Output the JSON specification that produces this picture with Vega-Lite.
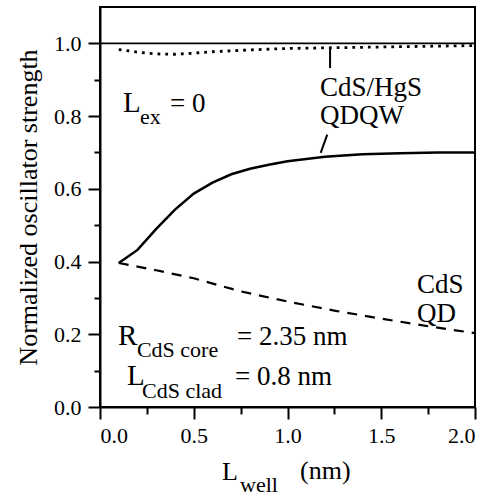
{
  "$schema": "https://vega.github.io/schema/vega-lite/v6.json",
  "width": 375,
  "height": 400,
  "autosize": {"type": "none"},
  "padding": {"left": 100, "top": 7, "right": 17, "bottom": 91},
  "background": "white",
  "config": {
    "view": {"stroke": "black", "strokeWidth": 2},
    "axis": {
      "grid": false,
      "domainColor": "black",
      "domainWidth": 2,
      "tickColor": "black",
      "tickWidth": 2,
      "labelFont": "Liberation Serif",
      "labelFontSize": 22,
      "labelColor": "black",
      "titleFont": "Liberation Serif",
      "titleFontSize": 26,
      "titleFontWeight": "normal",
      "titleColor": "black"
    },
    "text": {"font": "Liberation Serif", "color": "black", "align": "left", "baseline": "alphabetic"}
  },
  "datasets": {
    "qdqw": [
      {"x": 0.1, "y": 0.396}, {"x": 0.2, "y": 0.432}, {"x": 0.3, "y": 0.49}, {"x": 0.4, "y": 0.543},
      {"x": 0.5, "y": 0.587}, {"x": 0.6, "y": 0.617}, {"x": 0.7, "y": 0.64}, {"x": 0.8, "y": 0.655},
      {"x": 0.9, "y": 0.666}, {"x": 1.0, "y": 0.676}, {"x": 1.2, "y": 0.688}, {"x": 1.4, "y": 0.695},
      {"x": 1.6, "y": 0.698}, {"x": 1.8, "y": 0.7}, {"x": 2.0, "y": 0.7}
    ],
    "qd": [
      {"x": 0.1, "y": 0.396}, {"x": 0.3, "y": 0.376}, {"x": 0.5, "y": 0.354}, {"x": 0.75, "y": 0.318},
      {"x": 1.0, "y": 0.29}, {"x": 1.25, "y": 0.265}, {"x": 1.5, "y": 0.243}, {"x": 1.75, "y": 0.222},
      {"x": 2.0, "y": 0.203}
    ],
    "dot": [
      {"x": 0.1, "y": 0.983}, {"x": 0.2, "y": 0.976}, {"x": 0.3, "y": 0.971}, {"x": 0.4, "y": 0.97},
      {"x": 0.5, "y": 0.973}, {"x": 0.6, "y": 0.977}, {"x": 0.8, "y": 0.982}, {"x": 1.0, "y": 0.986},
      {"x": 1.25, "y": 0.988}, {"x": 1.5, "y": 0.99}, {"x": 1.75, "y": 0.992}, {"x": 2.0, "y": 0.994}
    ],
    "pointers": [
      {"x": 1.227, "y": 0.985, "x2": 1.227, "y2": 0.932},
      {"x": 1.212, "y": 0.749, "x2": 1.177, "y2": 0.699}
    ],
    "big": [
      {"x": 0.123, "y": 0.81, "t": "L"},
      {"x": 0.096, "y": 0.171, "t": "R"},
      {"x": 0.144, "y": 0.0606, "t": "L"}
    ],
    "main": [
      {"x": 0.373, "y": 0.81, "t": "= 0"},
      {"x": 1.173, "y": 0.854, "t": "CdS/HgS"},
      {"x": 1.173, "y": 0.777, "t": "QDQW"},
      {"x": 1.691, "y": 0.314, "t": "CdS"},
      {"x": 1.691, "y": 0.234, "t": "QD"},
      {"x": 0.731, "y": 0.171, "t": "= 2.35 nm"},
      {"x": 0.72, "y": 0.0606, "t": "= 0.8 nm"}
    ],
    "sub": [
      {"x": 0.213, "y": 0.777, "t": "ex"},
      {"x": 0.197, "y": 0.138, "t": "CdS core"},
      {"x": 0.224, "y": 0.0248, "t": "CdS clad"}
    ],
    "xtitle": [
      {"x": 0.651, "y": -0.201, "t": "L"},
      {"x": 1.067, "y": -0.198, "t": "(nm)"}
    ],
    "xsub": [
      {"x": 0.747, "y": -0.234, "t": "well"}
    ]
  },
  "encoding": {
    "x": {"field": "x", "type": "quantitative", "scale": {"domain": [0, 2], "nice": false, "zero": false}, "axis": null},
    "y": {"field": "y", "type": "quantitative", "scale": {"domain": [0, 1.1], "nice": false, "zero": false}, "axis": null}
  },
  "resolve": {"axis": {"x": "independent", "y": "independent"}},
  "layer": [
    {
      "data": {"name": "qdqw"},
      "mark": {"type": "line", "color": "black", "strokeWidth": 2.5},
      "encoding": {
        "x": {"field": "x", "type": "quantitative", "scale": {"domain": [0, 2], "nice": false, "zero": false},
          "axis": {"orient": "bottom", "values": [0, 0.5, 1, 1.5, 2], "format": ".1f", "tickSize": 12, "labelPadding": 6, "title": null}},
        "y": {"field": "y", "type": "quantitative", "scale": {"domain": [0, 1.1], "nice": false, "zero": false},
          "axis": {"orient": "left", "values": [0, 0.2, 0.4, 0.6, 0.8, 1.0], "format": ".1f", "tickSize": 12, "labelPadding": 7, "title": "Normalized oscillator strength", "titlePadding": 12}}
      }
    },
    {
      "data": {"name": "dot"},
      "mark": {"type": "point", "opacity": 0},
      "encoding": {
        "x": {"field": "x", "type": "quantitative", "scale": {"domain": [0, 2], "nice": false, "zero": false},
          "axis": {"orient": "bottom", "values": [0.25, 0.75, 1.25, 1.75], "labels": false, "domain": false, "tickSize": 7, "title": null}},
        "y": {"field": "y", "type": "quantitative", "scale": {"domain": [0, 1.1], "nice": false, "zero": false},
          "axis": {"orient": "left", "values": [0.1, 0.3, 0.5, 0.7, 0.9], "labels": false, "domain": false, "tickSize": 6, "title": null}}
      }
    },
    {
      "data": {"name": "qd"},
      "mark": {"type": "line", "color": "black", "strokeWidth": 2.2, "strokeDash": [10, 8]}
    },
    {
      "data": {"name": "dot"},
      "mark": {"type": "line", "color": "black", "strokeWidth": 2.8, "strokeDash": [2.8, 5]}
    },
    {
      "data": {"values": [{"v": 1}]},
      "mark": {"type": "rule", "color": "black", "strokeWidth": 1.6},
      "encoding": {
        "x": null,
        "y": {"field": "v", "type": "quantitative", "scale": {"domain": [0, 1.1], "nice": false, "zero": false}, "axis": null}
      }
    },
    {
      "data": {"name": "pointers"},
      "mark": {"type": "rule", "color": "black", "strokeWidth": 2},
      "encoding": {
        "x2": {"field": "x2"},
        "y2": {"field": "y2"}
      }
    },
    {
      "data": {"name": "big"},
      "mark": {"type": "text", "fontSize": 29},
      "encoding": {"text": {"field": "t"}}
    },
    {
      "data": {"name": "main"},
      "mark": {"type": "text", "fontSize": 27},
      "encoding": {"text": {"field": "t"}}
    },
    {
      "data": {"name": "sub"},
      "mark": {"type": "text", "fontSize": 22},
      "encoding": {"text": {"field": "t"}}
    },
    {
      "data": {"name": "xtitle"},
      "mark": {"type": "text", "fontSize": 26},
      "encoding": {"text": {"field": "t"}}
    },
    {
      "data": {"name": "xsub"},
      "mark": {"type": "text", "fontSize": 22},
      "encoding": {"text": {"field": "t"}}
    }
  ]
}
